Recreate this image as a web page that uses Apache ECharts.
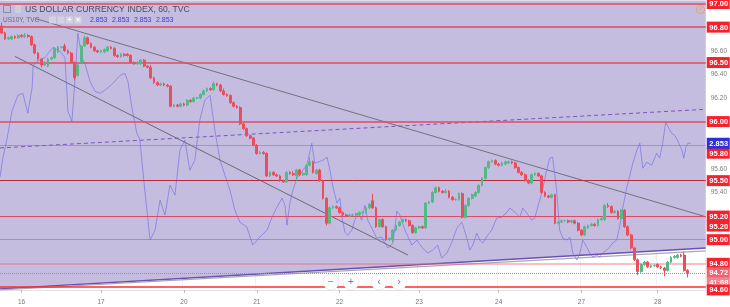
<!DOCTYPE html>
<html><head><meta charset="utf-8">
<script src="https://cdn.jsdelivr.net/npm/echarts@6/dist/echarts.min.js"></script>
<style>html,body{margin:0;padding:0;background:#fff}#c{width:730px;height:307px}</style>
</head><body><div id="c"></div>
<script>
// ---- data ----
const slotCount = 213;
const dayIndex = [6, 30, 55, 77, 102, 126, 150, 175, 198];
const dayNames = ['16', '17', '20', '21', '22', '23', '24', '27', '28'];
// [open, close, low, high]
const candles = [
[96.81,96.75,96.74,96.84],[96.75,96.70,96.69,96.76],[96.70,96.71,96.69,96.72],[96.70,96.72,96.69,96.73],
[96.72,96.71,96.70,96.73],[96.71,96.73,96.70,96.74],[96.73,96.72,96.71,96.74],[96.72,96.73,96.71,96.75],
[96.73,96.72,96.71,96.74],[96.72,96.65,96.64,96.73],[96.65,96.58,96.57,96.66],[96.58,96.53,96.52,96.59],
[96.53,96.48,96.46,96.54],[96.48,96.50,96.47,96.51],[96.47,96.53,96.46,96.54],[96.53,96.54,96.52,96.55],
[96.54,96.62,96.53,96.63],[96.59,96.63,96.58,96.64],[96.63,96.63,96.62,96.64],[96.64,96.60,96.59,96.66],
[96.60,96.58,96.57,96.61],[96.58,96.50,96.49,96.59],[96.50,96.37,96.35,96.51],[96.39,96.48,96.38,96.49],
[96.50,96.64,96.49,96.65],[96.64,96.71,96.63,96.73],[96.71,96.66,96.65,96.72],[96.66,96.63,96.62,96.67],
[96.63,96.60,96.59,96.64],[96.60,96.59,96.58,96.61],[96.59,96.60,96.58,96.61],[96.59,96.61,96.58,96.62],
[96.60,96.63,96.59,96.64],[96.63,96.62,96.61,96.64],[96.62,96.56,96.55,96.63],[96.56,96.55,96.54,96.57],
[96.55,96.57,96.54,96.58],[96.57,96.56,96.55,96.58],[96.57,96.56,96.55,96.58],[96.56,96.50,96.49,96.57],
[96.50,96.49,96.48,96.51],[96.49,96.50,96.48,96.51],[96.49,96.52,96.48,96.53],[96.52,96.47,96.46,96.53],
[96.47,96.46,96.45,96.48],[96.46,96.37,96.36,96.48],[96.37,96.33,96.32,96.38],[96.33,96.31,96.30,96.34],
[96.31,96.32,96.30,96.33],[96.32,96.31,96.30,96.33],[96.31,96.30,96.29,96.32],[96.30,96.13,96.12,96.31],
[96.13,96.14,96.12,96.15],[96.14,96.13,96.12,96.15],[96.13,96.15,96.12,96.16],[96.15,96.14,96.13,96.16],
[96.14,96.18,96.13,96.19],[96.18,96.17,96.16,96.19],[96.17,96.20,96.16,96.21],[96.20,96.20,96.19,96.21],
[96.20,96.23,96.19,96.24],[96.23,96.26,96.22,96.27],[96.26,96.28,96.25,96.29],[96.28,96.27,96.26,96.29],
[96.27,96.32,96.26,96.34],[96.32,96.31,96.30,96.33],[96.31,96.26,96.25,96.32],[96.26,96.23,96.22,96.28],
[96.23,96.22,96.21,96.24],[96.22,96.16,96.15,96.23],[96.16,96.13,96.12,96.17],[96.13,96.12,96.11,96.14],
[96.12,95.98,95.97,96.13],[95.98,95.94,95.93,95.99],[95.94,95.88,95.87,95.95],[95.88,95.86,95.85,95.89],
[95.86,95.80,95.79,95.87],[95.80,95.73,95.72,95.81],[95.73,95.74,95.72,95.75],[95.74,95.73,95.72,95.75],
[95.73,95.54,95.53,95.74],[95.54,95.57,95.53,95.58],[95.57,95.55,95.54,95.58],[95.55,95.54,95.53,95.56],
[95.54,95.50,95.49,95.55],[95.50,95.49,95.48,95.51],[95.49,95.57,95.48,95.58],[95.57,95.56,95.55,95.58],
[95.56,95.55,95.54,95.58],[95.54,95.59,95.50,95.60],[95.59,95.55,95.54,95.60],[95.55,95.56,95.54,95.57],
[95.55,95.63,95.54,95.64],[95.63,95.66,95.62,95.70],[95.66,95.57,95.56,95.67],[95.56,95.59,95.55,95.60],
[95.59,95.50,95.49,95.60],[95.50,95.35,95.34,95.51],[95.35,95.14,95.12,95.36],[95.14,95.27,95.13,95.28],
[95.27,95.28,95.26,95.29],[95.28,95.27,95.26,95.29],[95.27,95.23,95.22,95.28],[95.23,95.21,95.20,95.24],
[95.21,95.20,95.19,95.22],[95.20,95.21,95.19,95.22],[95.21,95.21,95.20,95.22],[95.21,95.22,95.20,95.23],
[95.21,95.23,95.20,95.24],[95.23,95.23,95.22,95.24],[95.23,95.27,95.22,95.28],[95.27,95.30,95.26,95.31],
[95.33,95.27,95.26,95.39],[95.27,95.11,95.10,95.28],[95.11,95.17,95.10,95.18],[95.17,95.11,95.10,95.18],
[95.11,95.00,94.99,95.12],[95.00,95.01,94.99,95.02],[95.00,95.08,94.98,95.09],[95.08,95.12,95.07,95.13],
[95.12,95.15,95.11,95.16],[95.15,95.17,95.14,95.18],[95.17,95.16,95.15,95.18],[95.16,95.12,95.11,95.17],
[95.12,95.06,95.05,95.13],[95.06,95.10,95.05,95.11],[95.10,95.11,95.09,95.12],[95.11,95.10,95.09,95.12],
[95.10,95.31,95.09,95.32],[95.31,95.32,95.30,95.33],[95.32,95.40,95.31,95.41],[95.40,95.44,95.39,95.45],
[95.44,95.41,95.40,95.45],[95.41,95.40,95.39,95.42],[95.40,95.41,95.39,95.43],[95.41,95.36,95.35,95.42],
[95.36,95.34,95.33,95.37],[95.34,95.34,95.33,95.35],[95.34,95.39,95.33,95.40],[95.39,95.19,95.18,95.40],
[95.19,95.29,95.18,95.30],[95.29,95.35,95.28,95.36],[95.35,95.38,95.34,95.39],[95.37,95.40,95.36,95.41],
[95.40,95.46,95.39,95.47],[95.46,95.52,95.45,95.53],[95.52,95.61,95.51,95.62],[95.61,95.66,95.60,95.67],
[95.66,95.67,95.65,95.68],[95.67,95.64,95.63,95.68],[95.64,95.63,95.62,95.65],[95.63,95.65,95.62,95.66],
[95.64,95.66,95.63,95.67],[95.65,95.66,95.64,95.67],[95.66,95.65,95.64,95.67],[95.65,95.61,95.60,95.66],
[95.61,95.57,95.56,95.62],[95.57,95.55,95.54,95.58],[95.55,95.50,95.49,95.56],[95.50,95.48,95.47,95.51],
[95.48,95.55,95.47,95.56],[95.55,95.56,95.54,95.57],[95.56,95.54,95.53,95.57],[95.54,95.40,95.39,95.55],
[95.40,95.37,95.36,95.41],[95.37,95.36,95.35,95.38],[95.36,95.38,95.35,95.39],[95.38,95.14,95.13,95.39],
[95.14,95.15,95.13,95.16],[95.15,95.16,95.14,95.17],[95.16,95.16,95.15,95.17],[95.16,95.15,95.14,95.17],
[95.15,95.16,95.14,95.17],[95.16,95.14,95.13,95.17],[95.14,95.08,95.07,95.15],[95.08,95.04,95.03,95.09],
[95.04,95.11,95.03,95.12],[95.10,95.12,95.09,95.13],[95.12,95.13,95.11,95.14],[95.13,95.12,95.11,95.14],
[95.12,95.17,95.11,95.18],[95.17,95.18,95.16,95.19],[95.17,95.29,95.16,95.30],[95.29,95.28,95.27,95.31],
[95.28,95.23,95.22,95.29],[95.23,95.24,95.22,95.25],[95.24,95.18,95.17,95.25],[95.18,95.25,95.17,95.26],
[95.25,95.11,95.10,95.26],[95.11,95.04,95.03,95.12],[95.04,94.93,94.92,95.05],[94.93,94.83,94.82,94.94],
[94.83,94.73,94.70,94.84],[94.73,94.79,94.72,94.80],[94.79,94.81,94.78,94.82],[94.81,94.77,94.76,94.82],
[94.77,94.78,94.76,94.79],[94.78,94.78,94.77,94.79],[94.79,94.77,94.76,94.80],[94.77,94.76,94.75,94.78],
[94.76,94.74,94.69,94.77],[94.74,94.81,94.73,94.82],[94.81,94.85,94.80,94.86],[94.85,94.86,94.84,94.87],
[94.85,94.87,94.84,94.88],[94.87,94.86,94.85,94.88],[94.87,94.74,94.73,94.90],[94.74,94.72,94.68,94.75]
];
// US10Y overlay: [slot position, yield]
const usYield = [
[-0.5,2.836],[0.4,2.846],[1.6,2.855],[3.1,2.869],[4.9,2.877],[6.4,2.878],[7.9,2.868],[9.2,2.881],[9.5,2.892],
[10.7,2.894],[13.1,2.896],[14.0,2.898],[15.5,2.901],[17.6,2.899],[19.1,2.896],[20.0,2.869],[21.2,2.864],[22.1,2.884],
[23.0,2.908],[24.2,2.896],[25.1,2.893],[26.7,2.884],[28.2,2.879],[29.7,2.878],[31.5,2.880],[33.6,2.883],[35.7,2.887],
[37.2,2.888],[38.1,2.884],[39.3,2.871],[40.8,2.858],[41.7,2.855],[43.2,2.8295],[44.8,2.8045],[46.3,2.8095],[47.8,2.8245],
[49.3,2.817],[50.8,2.832],[52.3,2.827],[53.8,2.8495],[55.3,2.8545],[56.8,2.8395],[58.3,2.8445],[59.8,2.8645],[61.3,2.8745],
[62.9,2.877],[64.4,2.859],[65.9,2.8445],[67.4,2.837],[68.9,2.8295],[70.4,2.8195],[71.9,2.8135],[74.0,2.811],[75.8,2.802],
[77.9,2.806],[80.1,2.8095],[81.6,2.816],[83.1,2.821],[84.6,2.8255],[85.5,2.822],[86.1,2.812],[87.0,2.823],[87.9,2.8295],
[89.1,2.8355],[90.0,2.837],[90.9,2.8395],[92.1,2.842],[93.6,2.853],[94.5,2.843],[95.4,2.8435],[97.0,2.8445],[98.2,2.846],
[99.1,2.8395],[100.0,2.831],[101.2,2.823],[102.1,2.8255],[102.7,2.816],[103.6,2.8085],[104.5,2.807],[105.7,2.8095],
[106.6,2.8145],[107.5,2.818],[108.7,2.8145],[109.6,2.822],[110.5,2.8145],[112.0,2.8095],[113.2,2.8055],[114.7,2.806],
[115.7,2.803],[116.6,2.8005],[118.1,2.803],[119.3,2.819],[120.2,2.817],[121.7,2.8095],[123.8,2.802],[125.3,2.8045],
[126.8,2.801],[128.6,2.798],[130.1,2.7995],[131.6,2.802],[132.8,2.7955],[134.4,2.798],[135.9,2.8035],[137.4,2.8105],
[138.9,2.8135],[140.4,2.8055],[141.3,2.7995],[142.2,2.802],[143.4,2.808],[144.3,2.8045],[145.2,2.803],[146.7,2.807],
[147.9,2.8095],[149.4,2.8155],[151.0,2.816],[152.5,2.8185],[153.4,2.8205],[154.9,2.8185],[156.4,2.816],[157.3,2.8205],
[158.5,2.818],[160.0,2.8145],[160.9,2.8155],[161.8,2.821],[163.0,2.828],[164.5,2.8395],[165.4,2.8455],[166.3,2.846],
[167.5,2.8295],[168.4,2.8095],[169.4,2.8055],[170.6,2.8045],[171.5,2.806],[172.4,2.798],[173.6,2.7945],[174.5,2.798],
[175.4,2.8045],[176.6,2.801],[177.5,2.798],[178.4,2.796],[179.6,2.797],[180.5,2.796],[181.4,2.798],[182.6,2.7995],
[183.5,2.801],[184.4,2.803],[185.6,2.8045],[186.5,2.811],[187.5,2.821],[188.7,2.831],[189.6,2.837],[190.5,2.843],
[191.7,2.8495],[192.6,2.853],[193.5,2.8405],[194.7,2.8435],[196.2,2.842],[197.7,2.848],[198.6,2.8455],[199.5,2.853],
[200.4,2.8635],[201.0,2.863],[202.2,2.858],[203.1,2.857],[204.0,2.8545],[205.3,2.8495],[205.9,2.8455],[206.5,2.851],
[207.1,2.853],[208.0,2.853]
];
const yieldLast = 2.853;
const levels = [97.00, 96.80, 96.50, 96.00, 95.80, 95.50, 95.20, 95.00, 94.80, 94.72, 94.60];
const upperTrend = [[10.1, 96.873], [212.5, 95.194]];
const lowerTrend = [[4.0, 96.552], [122.6, 94.870]];
const midDashed = [[-0.5, 95.777], [212.5, 96.104]];
const channelEdge = [[-0.5, 94.583], [212.5, 94.929]];
const baseLine = [[-0.5, 94.575], [212.5, 94.905]];
const priceTicks = [94.6, 94.8, 95.0, 95.2, 95.4, 95.6, 95.8, 96.0, 96.2, 96.4, 96.6, 96.8, 97.0];
const tagValues = [97.00, 96.80, 96.50, 96.00, 95.80, 95.50, 95.20, 95.20, 95.00, 94.80, 94.72, 94.72, 94.60];
const tagTexts = ['97.00', '96.80', '96.50', '96.00', '95.80', '95.50', '95.20', '95.20', '95.00', '94.80', '94.72', '41:08', '94.60'];

// ---- styles ----
const RED = '#e24a60';
const levelStyles = [
  {color: RED, width: 1.5}, {color: RED, width: 1.5}, {color: RED, width: 1.5}, {color: RED, width: 1.5},
  {color: 'rgba(226,74,96,0.5)', width: 1}, {color: '#b32d3f', width: 1}, {color: '#dd4a62', width: 1.2},
  {color: 'rgba(226,74,96,0.55)', width: 1.2}, {color: 'rgba(244,100,110,0.55)', width: 1.5},
  {color: '#f06a78', width: 1, type: 'dotted'}, {color: '#ff2d2d', width: 1.5}
];
const tagShift = [0, 0, 0, 0, 8, 0, 0, 10, 0, 0, 0, 10, 3];
const tagFill = ['#f5222d','#f5222d','#f5222d','#f5222d','#f5222d','#f5222d','#f5222d','#f5222d','#f5222d','#f5222d','#f0606e','#f2848e','#f5222d'];
const FONT = '"Liberation Sans", Arial, sans-serif';

const categories = Array.from({length: slotCount}, (_, i) => 'h' + i);
const isDay = (idx) => dayIndex.indexOf(idx) >= 0;

function tagRenderer(texts, fills, shifts) {
  return function (params, api) {
    const i = params.dataIndex;
    const cs = params.coordSys;
    const y = api.coord([0, api.value(1)])[1] + shifts[i];
    const x0 = cs.x + cs.width;
    return {
      type: 'group',
      children: [
        {type: 'rect', shape: {x: x0 + 1, y: y - 5.5, width: 23, height: 11}, style: {fill: fills[i]}},
        {type: 'text', x: x0 + 13, y: y + 0.5, style: {text: texts[i], fill: '#fff', font: 'bold 7.5px ' + FONT, textAlign: 'center', textVerticalAlign: 'middle'}}
      ]
    };
  };
}

const chart = echarts.init(document.getElementById('c'), null, {renderer: 'canvas'});
chart.setOption({
  animation: false,
  backgroundColor: '#ffffff',
  grid: {left: 0, right: 24, top: 0, bottom: 17, containLabel: false},
  xAxis: [
    {
      type: 'category', data: categories, boundaryGap: true,
      axisLine: {show: true, lineStyle: {color: '#e2e2e2'}},
      axisTick: {show: true, interval: isDay, alignWithLabel: true, length: 3, lineStyle: {color: '#bdbdbd'}},
      axisLabel: {interval: isDay, formatter: (v, idx) => dayNames[dayIndex.indexOf(idx)] || '', fontSize: 6.5, color: '#777', margin: 9, fontFamily: FONT},
      splitLine: {show: true, interval: isDay, lineStyle: {color: 'rgba(225,225,238,0.55)', width: 1}}
    },
    {type: 'value', show: false, min: -0.5, max: slotCount - 0.5}
  ],
  yAxis: [
    {
      type: 'value', position: 'right', min: 94.574, max: 97.0254,
      splitLine: {show: false},
      axisLine: {show: true, lineStyle: {color: '#d8d8d8'}},
      axisTick: {show: true, customValues: priceTicks, length: 3, lineStyle: {color: '#9a9a9a'}},
      axisLabel: {customValues: priceTicks, formatter: v => v.toFixed(2), fontSize: 6.5, color: '#7d7d7d', margin: 5, fontFamily: FONT}
    },
    {type: 'value', show: false, min: 2.7795, max: 2.9245}
  ],
  series: [
    {
      type: 'line', xAxisIndex: 1, yAxisIndex: 0, data: channelEdge, symbol: 'none', silent: true, z: 1,
      lineStyle: {color: '#6c4fb2', width: 1.5},
      areaStyle: {origin: 'end', color: '#c5bde0', opacity: 1},
      markLine: {
        silent: true, symbol: ['none', 'none'], label: {show: false},
        data: levels.map((v, i) => ({yAxis: v, lineStyle: Object.assign({type: 'solid'}, levelStyles[i])}))
      }
    },
    {type: 'line', xAxisIndex: 1, yAxisIndex: 0, data: baseLine, symbol: 'none', silent: true, z: 2, lineStyle: {color: '#a8a8b2', width: 1.2}},
    {type: 'line', xAxisIndex: 1, yAxisIndex: 0, data: midDashed, symbol: 'none', silent: true, z: 2, lineStyle: {color: '#7a55b8', width: 1, type: [4, 3]}},
    {type: 'line', xAxisIndex: 1, yAxisIndex: 0, data: upperTrend, symbol: 'none', silent: true, z: 2, lineStyle: {color: '#72727c', width: 1}},
    {type: 'line', xAxisIndex: 1, yAxisIndex: 0, data: lowerTrend, symbol: 'none', silent: true, z: 2, lineStyle: {color: '#6a6a72', width: 1}},
    {type: 'line', xAxisIndex: 1, yAxisIndex: 1, data: usYield, symbol: 'none', silent: true, z: 3, lineStyle: {color: 'rgba(105,105,228,0.6)', width: 1}},
    {
      type: 'candlestick', xAxisIndex: 0, yAxisIndex: 0, data: candles, barWidth: '68%', z: 5, silent: true,
      itemStyle: {color: '#53b987', color0: '#eb4d5c', borderColor: '#53b987', borderColor0: '#eb4d5c', borderWidth: 1}
    },
    {
      type: 'custom', xAxisIndex: 1, yAxisIndex: 0, z: 10, clip: false, silent: true,
      data: tagValues.map(v => [0, v]),
      renderItem: tagRenderer(tagTexts, tagFill, tagShift)
    },
    {
      type: 'custom', xAxisIndex: 1, yAxisIndex: 1, z: 11, clip: false, silent: true,
      data: [[0, yieldLast]],
      renderItem: tagRenderer([yieldLast.toFixed(3)], ['#2f2fd8'], [0])
    }
  ],
  graphic: [
    {type: 'rect', z: 50, shape: {x: 3.5, y: 5.5, width: 7, height: 7}, style: {fill: 'none', stroke: '#8b8b99', lineWidth: 1}},
    {type: 'rect', z: 50, shape: {x: 15, y: 5, width: 6, height: 8}, style: {fill: '#cfcfda'}},
    {type: 'text', z: 50, x: 25, y: 9.5, style: {text: 'US DOLLAR CURRENCY INDEX, 60, TVC', fill: '#4a4a58', font: '8.6px ' + FONT, textVerticalAlign: 'middle'}},
    {type: 'text', z: 50, x: 3, y: 20, style: {text: 'US10Y, TVC', fill: '#6a6a78', font: '6.5px ' + FONT, textVerticalAlign: 'middle'}},
    {type: 'rect', z: 50, shape: {x: 49, y: 16.5, width: 7, height: 7}, style: {fill: 'rgba(212,212,224,0.9)'}},
    {type: 'rect', z: 50, shape: {x: 57.5, y: 16.5, width: 7, height: 7}, style: {fill: 'rgba(212,212,224,0.9)'}},
    {type: 'rect', z: 50, shape: {x: 66, y: 16.5, width: 7, height: 7}, style: {fill: 'rgba(212,212,224,0.9)'}},
    {type: 'rect', z: 50, shape: {x: 74.5, y: 16.5, width: 7, height: 7}, style: {fill: 'rgba(212,212,224,0.9)'}},
    {type: 'text', z: 51, x: 69.5, y: 20, style: {text: '+', fill: '#fff', font: 'bold 7px ' + FONT, textAlign: 'center', textVerticalAlign: 'middle'}},
    {type: 'text', z: 51, x: 78, y: 20, style: {text: '×', fill: '#fff', font: 'bold 7px ' + FONT, textAlign: 'center', textVerticalAlign: 'middle'}},
    {type: 'text', z: 50, x: 90, y: 20, style: {text: '2.853', fill: '#3b3bd6', font: '7px ' + FONT, textVerticalAlign: 'middle'}},
    {type: 'text', z: 50, x: 112, y: 20, style: {text: '2.853', fill: '#3b3bd6', font: '7px ' + FONT, textVerticalAlign: 'middle'}},
    {type: 'text', z: 50, x: 134, y: 20, style: {text: '2.853', fill: '#3b3bd6', font: '7px ' + FONT, textVerticalAlign: 'middle'}},
    {type: 'text', z: 50, x: 156, y: 20, style: {text: '2.853', fill: '#3b3bd6', font: '7px ' + FONT, textVerticalAlign: 'middle'}},
    {type: 'circle', z: 50, shape: {cx: 700.5, cy: 9.5, r: 4}, style: {fill: 'none', stroke: '#f0a060', lineWidth: 1}},
    {type: 'text', z: 50, x: 700.5, y: 9.8, style: {text: '!', fill: '#f0a060', font: 'bold 6px ' + FONT, textAlign: 'center', textVerticalAlign: 'middle'}},
    {type: 'circle', z: 50, shape: {cx: 331, cy: 282, r: 8}, style: {fill: '#fff', stroke: 'rgba(0,0,0,0.07)', lineWidth: 1}},
    {type: 'circle', z: 50, shape: {cx: 351, cy: 282, r: 8}, style: {fill: '#fff', stroke: 'rgba(0,0,0,0.07)', lineWidth: 1}},
    {type: 'circle', z: 50, shape: {cx: 379, cy: 282, r: 8}, style: {fill: '#fff', stroke: 'rgba(0,0,0,0.07)', lineWidth: 1}},
    {type: 'circle', z: 50, shape: {cx: 399, cy: 282, r: 8}, style: {fill: '#fff', stroke: 'rgba(0,0,0,0.07)', lineWidth: 1}},
    {type: 'text', z: 51, x: 331, y: 282, style: {text: '−', fill: '#777', font: '10px ' + FONT, textAlign: 'center', textVerticalAlign: 'middle'}},
    {type: 'text', z: 51, x: 351, y: 282, style: {text: '+', fill: '#777', font: '10px ' + FONT, textAlign: 'center', textVerticalAlign: 'middle'}},
    {type: 'text', z: 51, x: 379, y: 281.5, style: {text: '‹', fill: '#777', font: '11px ' + FONT, textAlign: 'center', textVerticalAlign: 'middle'}},
    {type: 'text', z: 51, x: 399, y: 281.5, style: {text: '›', fill: '#777', font: '11px ' + FONT, textAlign: 'center', textVerticalAlign: 'middle'}}
  ]
});
</script>
</body></html>
